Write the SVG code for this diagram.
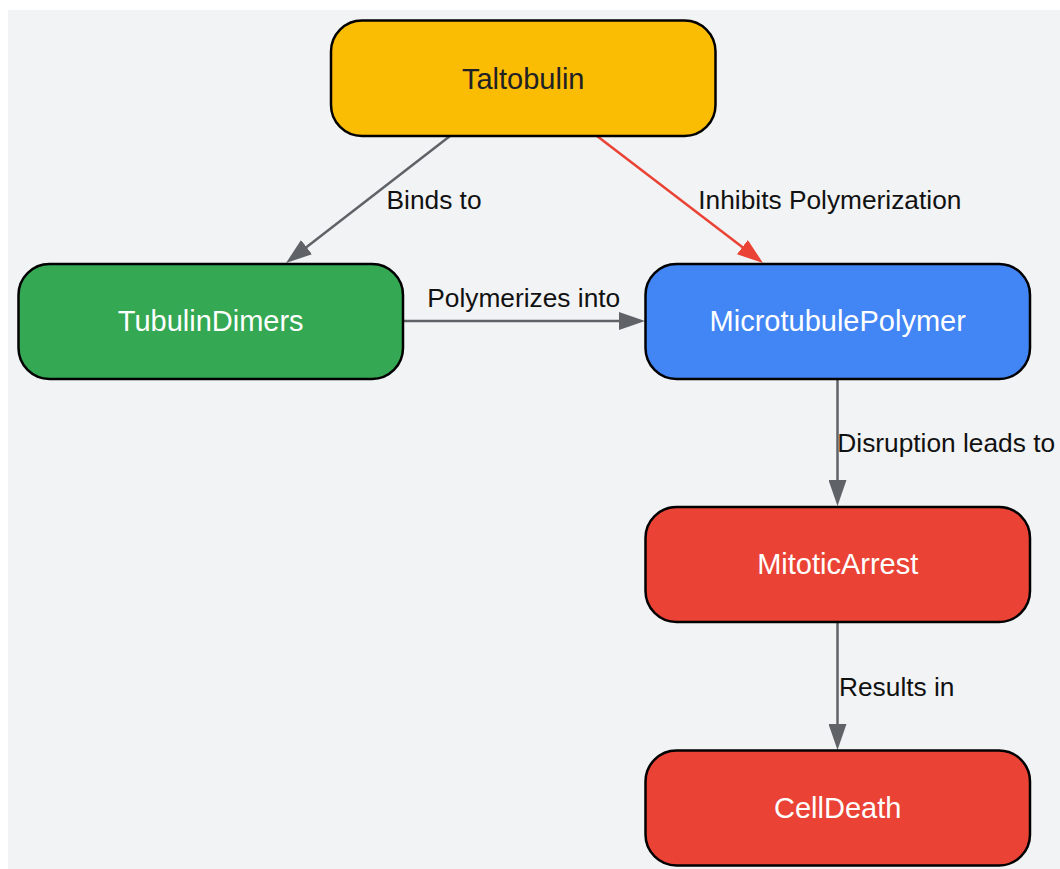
<svg xmlns="http://www.w3.org/2000/svg" width="1060" height="869" viewBox="0 0 1060 869">
  <defs>
    <style>
      .node rect { stroke: #000; stroke-width: 2.5; }
      .node text { font-family: "Liberation Sans", Arial, sans-serif; font-size: 29px; text-anchor: middle; fill: #ffffff; }
      .edge { fill: none; stroke: #5f6368; stroke-width: 2.5; }
      .edge.red { stroke: #ea4335; }
      .elabel { font-family: "Liberation Sans", Arial, sans-serif; font-size: 26.3px; fill: #111111; }
    </style>
    <marker id="arrowGray" markerUnits="userSpaceOnUse" markerWidth="26" markerHeight="18" refX="6" refY="9" orient="auto">
      <path d="M0,0 L26,9 L0,18 z" fill="#5f6368"/>
    </marker>
    <marker id="arrowRed" markerUnits="userSpaceOnUse" markerWidth="26" markerHeight="18" refX="6" refY="9" orient="auto">
      <path d="M0,0 L26,9 L0,18 z" fill="#ea4335"/>
    </marker>
  </defs>

  <rect x="8" y="10" width="1052" height="859" fill="#f1f3f4"/>

  <g id="connectors">
    <line class="edge" x1="450" y1="136" x2="301.8" y2="250.8" marker-end="url(#arrowGray)"/>
    <line class="edge red" x1="597" y1="136" x2="747.1" y2="250.8" marker-end="url(#arrowRed)"/>
    <line class="edge" x1="403" y1="321" x2="625" y2="321" marker-end="url(#arrowGray)"/>
    <line class="edge" x1="837.5" y1="379" x2="837.5" y2="486" marker-end="url(#arrowGray)"/>
    <line class="edge" x1="837.5" y1="622" x2="837.5" y2="730" marker-end="url(#arrowGray)"/>
    <text class="elabel" x="386.5" y="209">Binds to</text>
    <text class="elabel" x="698.3" y="209">Inhibits Polymerization</text>
    <text class="elabel" x="427.3" y="306.7">Polymerizes into</text>
    <text class="elabel" x="837.3" y="452.3">Disruption leads to</text>
    <text class="elabel" x="839" y="696">Results in</text>
  </g>

  <g id="Taltobulin" class="node">
    <rect x="331" y="20.5" width="384.5" height="115.5" rx="31" ry="31" fill="#fbbc04"/>
    <text x="523.2" y="88.5" style="fill:#202124">Taltobulin</text>
  </g>
  <g id="TubulinDimers" class="node">
    <rect x="18.5" y="264" width="384.5" height="115" rx="31" ry="31" fill="#34a853"/>
    <text x="210.7" y="331">TubulinDimers</text>
  </g>
  <g id="MicrotubulePolymer" class="node">
    <rect x="645.5" y="264" width="384.5" height="115" rx="31" ry="31" fill="#4285f4"/>
    <text x="837.7" y="331">MicrotubulePolymer</text>
  </g>
  <g id="MitoticArrest" class="node">
    <rect x="645.5" y="507" width="384.5" height="115" rx="31" ry="31" fill="#ea4335"/>
    <text x="837.7" y="574.3">MitoticArrest</text>
  </g>
  <g id="CellDeath" class="node">
    <rect x="645.5" y="750.5" width="384.5" height="115" rx="31" ry="31" fill="#ea4335"/>
    <text x="837.7" y="817.5">CellDeath</text>
  </g>
</svg>
